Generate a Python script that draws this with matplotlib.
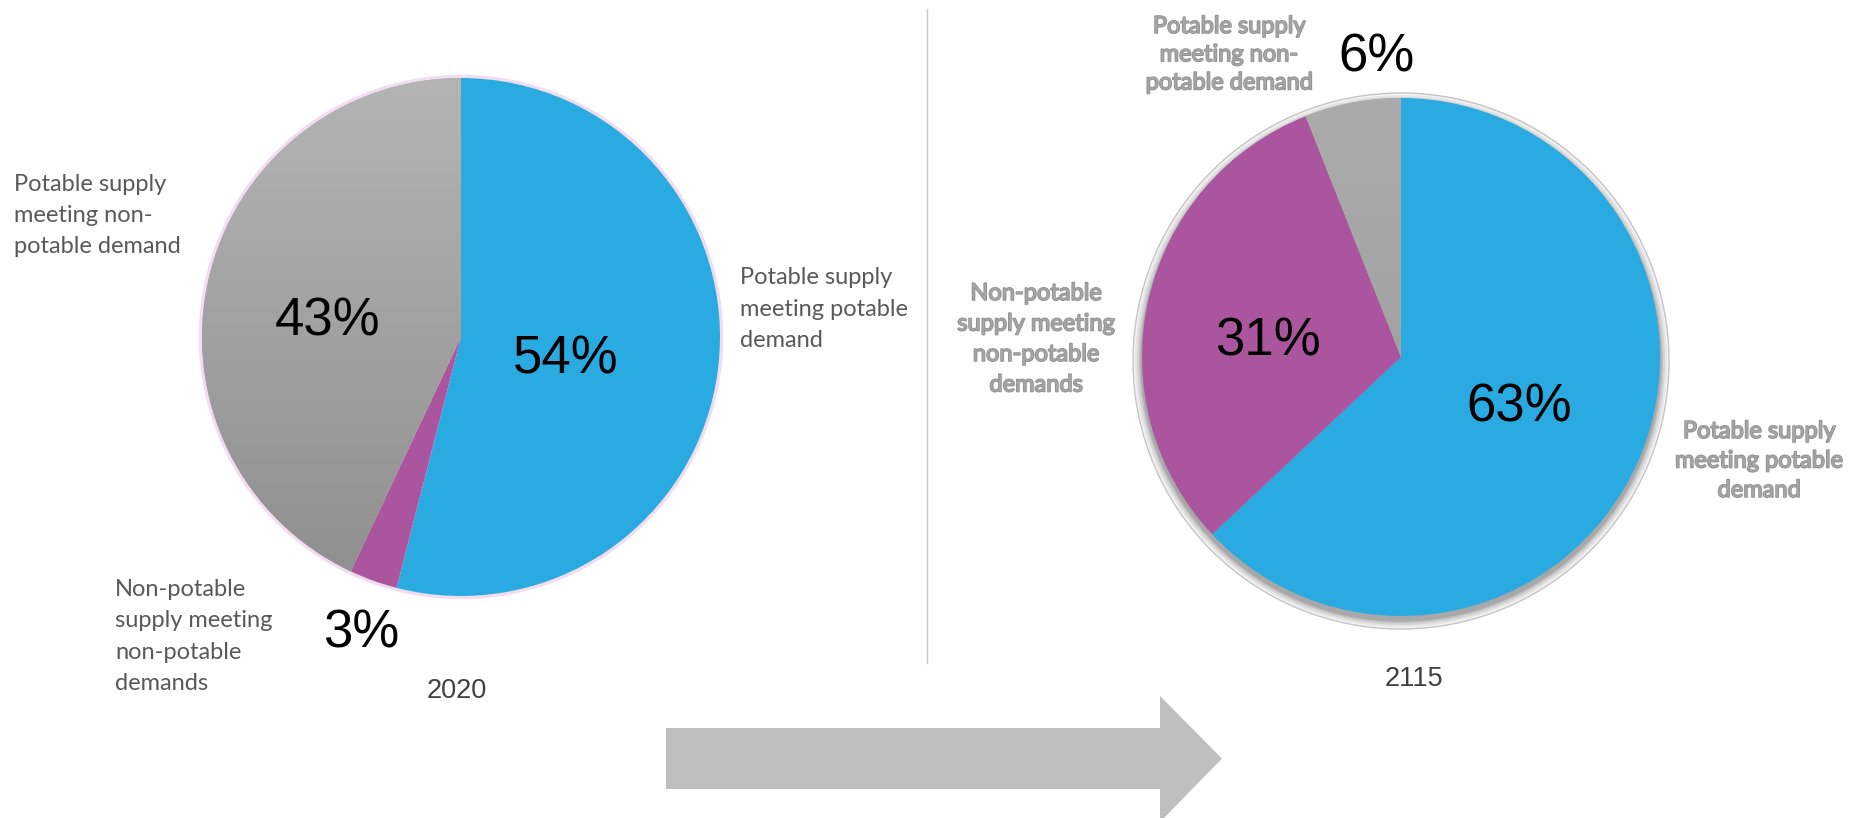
import matplotlib
matplotlib.use('Agg')
import matplotlib.pyplot as plt
import numpy as np
from matplotlib.patches import Circle, Polygon
from matplotlib.colors import LinearSegmentedColormap
import matplotlib.patheffects as pe

# ---------------- data ----------------
years = ['2020', '2115']
values_2020 = [54, 3, 43]
values_2115 = [63, 31, 6]
labels_2020 = ['Potable supply\nmeeting potable\ndemand',
               'Non-potable\nsupply meeting\nnon-potable\ndemands',
               'Potable supply\nmeeting non-\npotable demand']
labels_2115 = ['Potable supply\nmeeting potable\ndemand',
               'Non-potable\nsupply meeting\nnon-potable\ndemands',
               'Potable supply\nmeeting non-\npotable demand']
colors = ['#29AAE1', '#AA559E', '#A8A8A8']

# ---------------- figure ----------------
W, H = 1858, 818
DPI = 100
fig = plt.figure(figsize=(W / DPI, H / DPI), dpi=DPI)
ax = fig.add_axes([0, 0, 1, 1])


def Y(y):
    return H - y


LABEL_FONT = 'Lato'
PCT_FONT = 'Liberation Sans'
LABEL_SIZE = 17
PCT_SIZE = 38


def ml_text(x, y0, text, step, ha, **kw):
    for i, line in enumerate(text.split('\n')):
        ax.text(x, Y(y0 + i * step), line, ha=ha, va='baseline', **kw)


def gradient_fill(wedge, cx, cy, r, top, bottom, z):
    grad = np.linspace(0, 1, 256).reshape(-1, 1)
    cmap = LinearSegmentedColormap.from_list('g', [top, bottom])
    im = ax.imshow(grad, extent=(cx - r, cx + r, cy - r, cy + r), origin='upper',
                   cmap=cmap, aspect='auto', zorder=z)
    im.set_clip_path(wedge)


# ---- left pie (2020) ----
c1x, c1y, r = 461, Y(337), 259
ax.add_patch(Circle((c1x, c1y), r + 1.5, facecolor='none', edgecolor='#F1DDEF', lw=2.5, zorder=1))
w1, _ = ax.pie(values_2020, colors=colors, startangle=90, counterclock=False,
               center=(c1x, c1y), radius=r, frame=True,
               wedgeprops=dict(linewidth=0))
for w in w1:
    w.set_zorder(2)
gradient_fill(w1[2], c1x, c1y, r, '#B4B4B4', '#8E8E8E', 3)

# ---- right pie (2115) with shadow ----
c2x, c2y = 1401, Y(357)
sx, sy = 1401, Y(361)
for rr, col in [(268, '#F4F4F4'), (266, '#E6E6E6'), (264, '#D4D4D4'), (262, '#BFBFBF'), (260.5, '#A8A8A8')]:
    ax.add_patch(Circle((sx, sy), rr, facecolor=col,
                        edgecolor='#C4C4C4' if rr == 268 else 'none', lw=1, zorder=1))
w2, _ = ax.pie(values_2115, colors=colors, startangle=90, counterclock=False,
               center=(c2x, c2y), radius=r, frame=True,
               wedgeprops=dict(linewidth=0))
for w in w2:
    w.set_zorder(2)
gradient_fill(w2[2], c2x, c2y, r, '#ABABAB', '#999999', 3)

# ---- percent labels ----
pct_kw = dict(fontsize=PCT_SIZE, family=PCT_FONT, color='black', ha='center', va='baseline', zorder=5)
pct_pos_2020 = [(566, 373), (361, 647), (328, 335)]
pct_pos_2115 = [(1519, 422), (1268, 355), (1377, 72)]
for v, (x, y) in zip(values_2020, pct_pos_2020):
    ax.text(x, Y(y), f'{v}%', **pct_kw)
for v, (x, y) in zip(values_2115, pct_pos_2115):
    ax.text(x, Y(y), f'{v}%', **pct_kw)

# ---- category labels ----
left_kw = dict(fontsize=LABEL_SIZE, family=LABEL_FONT, color='#595959', zorder=5)
ml_text(740, 284, labels_2020[0], 31.5, 'left', **left_kw)
ml_text(115, 596, labels_2020[1], 31.3, 'left', **left_kw)
ml_text(14, 191, labels_2020[2], 31.0, 'left', **left_kw)

right_kw = dict(fontsize=LABEL_SIZE, family=LABEL_FONT, color='#A6A6A6', zorder=5,
                path_effects=[pe.Stroke(linewidth=1.2, foreground='#707070', alpha=0.75), pe.Normal()])
ml_text(1759, 438, labels_2115[0], 29.5, 'center', **right_kw)
ml_text(1036, 300, labels_2115[1], 30.5, 'center', **right_kw)
ml_text(1229, 33, labels_2115[2], 28.2, 'center', **right_kw)

# ---- year captions ----
year_kw = dict(fontsize=19.5, family=PCT_FONT, color='#404040', ha='center', va='baseline', zorder=5)
ax.text(457, Y(698.5), years[0], **year_kw)
ax.text(1414, Y(686.5), years[1], **year_kw)

# ---- divider ----
ax.plot([927, 927], [Y(9), Y(663)], color='#C8C8C8', lw=1, zorder=1)

# ---- arrow ----
ax0, ax1, tip = 666, 1160, 1222
yt, yb, ht, hb = 728, 789, 696, 822
ym = (yt + yb) / 2
arrow = Polygon([(ax0, Y(yt)), (ax1, Y(yt)), (ax1, Y(ht)), (tip, Y(ym)),
                 (ax1, Y(hb)), (ax1, Y(yb)), (ax0, Y(yb))],
                closed=True, facecolor='#BFBFBF', edgecolor='none', zorder=1)
ax.add_patch(arrow)

ax.set_xlim(0, W)
ax.set_ylim(0, H)
ax.set_aspect('auto')
ax.axis('off')

fig.savefig('out.png', dpi=DPI, facecolor='white')
